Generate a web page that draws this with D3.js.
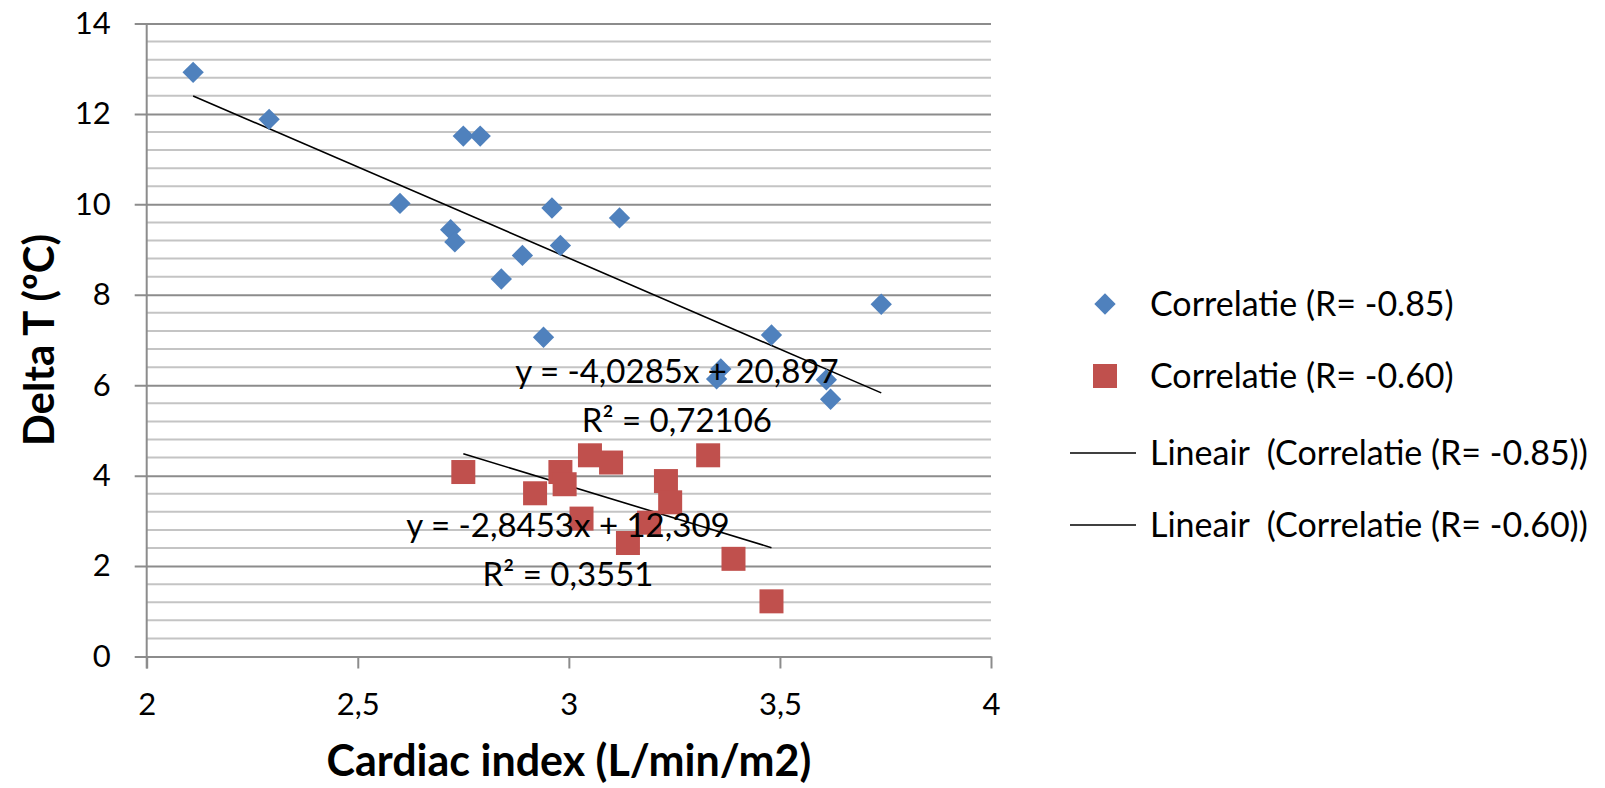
<!DOCTYPE html>
<html lang="nl">
<head>
<meta charset="UTF-8">
<title>Delta T vs Cardiac index</title>
<style>
body { margin: 0; background: #fff; }
#canvas { width: 1605px; height: 788px; }
text { font-family: Lato, "Open Sans", sans-serif; fill: #000; white-space: pre; }
.grid-minor line { stroke: #c4c4c4; stroke-width: 2; }
.grid-major line { stroke: #8c8c8c; stroke-width: 2; }
</style>
<script src="https://cdn.jsdelivr.net/npm/d3@7/dist/d3.min.js"></script>
</head>
<body>
<div id="canvas"></div>
<script>
// series 1: Correlatie (R= -0.85)
var blueX = [2.11, 2.29, 2.75, 2.79, 2.60, 2.72, 2.73, 2.96, 3.12, 2.98, 2.89, 2.84, 2.94, 3.48, 3.36, 3.35, 3.61, 3.62, 3.74];
var blueY = [12.92, 11.88, 11.51, 11.51, 10.02, 9.44, 9.17, 9.92, 9.70, 9.09, 8.87, 8.35, 7.06, 7.11, 6.36, 6.14, 6.12, 5.69, 7.79];
// series 2: Correlatie (R= -0.60)
var redX = [2.75, 3.05, 3.10, 3.33, 2.98, 2.99, 2.92, 3.23, 3.24, 3.03, 3.19, 3.14, 3.39, 3.48];
var redY = [4.08, 4.45, 4.29, 4.45, 4.08, 3.81, 3.61, 3.88, 3.41, 3.05, 2.96, 2.51, 2.16, 1.22];

// trendlines (slope, intercept) and their labels
var trendSlope = [-4.0285, -2.8453];
var trendIntercept = [20.897, 12.309];
var eqLabels = ["y = -4,0285x + 20,897", "y = -2,8453x + 12,309"];
var r2Labels = ["R\u00B2 = 0,72106", "R\u00B2 = 0,3551"];
var eqAnchorX = [3.256, 2.998];
var eqAnchorY = [6.05, 2.64];
var r2AnchorY = [4.96, 1.56];

var xTicks = [2, 2.5, 3, 3.5, 4];
var yTicks = [0, 2, 4, 6, 8, 10, 12, 14];
var legendLabels = ["Correlatie (R= -0.85)", "Correlatie (R= -0.60)",
                    "Lineair  (Correlatie (R= -0.85))", "Lineair  (Correlatie (R= -0.60))"];

var blueColor = "#4f81bd";
var redColor = "#c0504d";

var width = 1605, height = 788;
var margin = {top: 23.5, right: 614, bottom: 131.5, left: 146.7};
var innerW = width - margin.left - margin.right;
var innerH = height - margin.top - margin.bottom;

var svg = d3.select("#canvas").append("svg")
    .attr("width", width)
    .attr("height", height);

var g = svg.append("g")
    .attr("transform", "translate(" + margin.left + "," + margin.top + ")");

var x = d3.scaleLinear().domain([2, 4]).range([0, innerW]);
var y = d3.scaleLinear().domain([0, 14]).range([innerH, 0]);

// minor gridlines every 0.4
var minorTicks = d3.range(0, 14.001, 0.4).filter(function(v) {
  return Math.abs(v / 2 - Math.round(v / 2)) > 1e-6;
});
g.append("g").attr("class", "grid-minor")
  .selectAll("line").data(minorTicks).enter().append("line")
  .attr("x1", 0).attr("x2", innerW)
  .attr("y1", function(d) { return y(d); })
  .attr("y2", function(d) { return y(d); });

// y axis with major gridlines
var yAxis = g.append("g").attr("class", "grid-major")
  .call(d3.axisLeft(y).tickValues(yTicks).tickSizeInner(-innerW).tickSizeOuter(0).tickPadding(36)
        .tickFormat(function(d) { return d; }));
yAxis.select(".domain").remove();
yAxis.selectAll(".tick line").attr("x1", -12);
yAxis.selectAll("text").style("font-size", "31px").attr("fill", "#000");

// vertical axis line
g.append("line")
  .attr("x1", 0).attr("x2", 0).attr("y1", 0).attr("y2", innerH + 12)
  .attr("stroke", "#8c8c8c").attr("stroke-width", 2);

// x axis
var xAxis = g.append("g")
  .attr("transform", "translate(0," + innerH + ")")
  .call(d3.axisBottom(x).tickValues(xTicks).tickSize(12).tickSizeOuter(0).tickPadding(24)
        .tickFormat(function(d) { return String(d).replace(".", ","); }));
xAxis.select(".domain").attr("stroke", "#8c8c8c").attr("stroke-width", 2);
xAxis.selectAll(".tick line").attr("stroke", "#8c8c8c").attr("stroke-width", 2);
xAxis.selectAll("text").style("font-size", "31px").attr("fill", "#000");

// trendlines
var series = [
  {xs: blueX, ys: blueY},
  {xs: redX, ys: redY}
];
series.forEach(function(s, i) {
  var ext = d3.extent(s.xs);
  g.append("line")
    .attr("x1", x(ext[0])).attr("y1", y(trendSlope[i] * ext[0] + trendIntercept[i]))
    .attr("x2", x(ext[1])).attr("y2", y(trendSlope[i] * ext[1] + trendIntercept[i]))
    .attr("stroke", "#000").attr("stroke-width", 1.6);
});

// points
var blueData = blueX.map(function(v, i) { return [v, blueY[i]]; });
var redData = redX.map(function(v, i) { return [v, redY[i]]; });

g.append("g").selectAll("path").data(blueData).enter().append("path")
  .attr("d", d3.symbol().type(d3.symbolDiamond2).size(290))
  .attr("transform", function(d) { return "translate(" + x(d[0]) + "," + y(d[1]) + ")"; })
  .attr("fill", blueColor);

g.append("g").selectAll("rect").data(redData).enter().append("rect")
  .attr("x", function(d) { return x(d[0]) - 12; })
  .attr("y", function(d) { return y(d[1]) - 12; })
  .attr("width", 24).attr("height", 24)
  .attr("fill", redColor);

// equation labels
eqLabels.forEach(function(t, i) {
  g.append("text")
    .attr("x", x(eqAnchorX[i])).attr("y", y(eqAnchorY[i]))
    .attr("text-anchor", "middle").style("font-size", "33px")
    .text(t);
  g.append("text")
    .attr("x", x(eqAnchorX[i])).attr("y", y(r2AnchorY[i]))
    .attr("text-anchor", "middle").style("font-size", "33px")
    .text(r2Labels[i]);
});

// axis titles
svg.append("text")
  .attr("transform", "translate(54," + (margin.top + innerH / 2) + ") rotate(-90)")
  .attr("text-anchor", "middle")
  .style("font-size", "42px").style("font-weight", "bold")
  .text("Delta T (\u00BAC)");

svg.append("text")
  .attr("x", margin.left + innerW / 2).attr("y", 776)
  .attr("text-anchor", "middle")
  .style("font-size", "43px").style("font-weight", "bold")
  .text("Cardiac index (L/min/m2)");

// legend
var legend = svg.append("g").attr("transform", "translate(1105,0)");
var legendY = [304, 376, 453, 525];
legendLabels.forEach(function(t, i) {
  var row = legend.append("g").attr("transform", "translate(0," + legendY[i] + ")");
  if (i === 0) {
    row.append("path").attr("d", d3.symbol().type(d3.symbolDiamond2).size(290)).attr("fill", blueColor);
  } else if (i === 1) {
    row.append("rect").attr("x", -12).attr("y", -12).attr("width", 24).attr("height", 24).attr("fill", redColor);
  } else {
    row.append("line").attr("x1", -35).attr("x2", 31).attr("stroke", "#000").attr("stroke-width", 1.6);
  }
  row.append("text")
    .attr("x", 45).attr("dy", "0.36em")
    .style("font-size", "34px")
    .text(t);
});
</script>
</body>
</html>
